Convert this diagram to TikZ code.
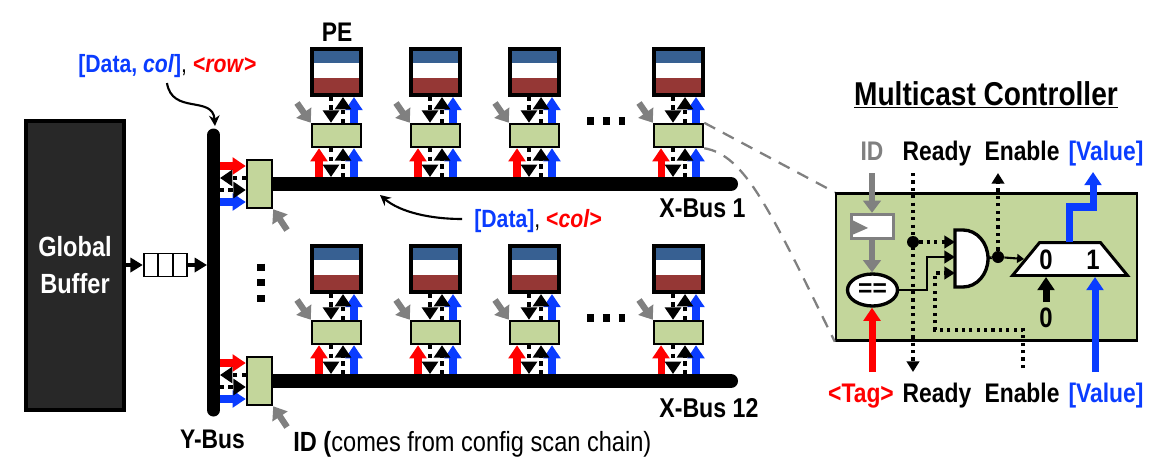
\documentclass[tikz,border=0pt]{standalone}
\usepackage{fontspec}
\setmainfont{Liberation Sans}
\newfontfamily\tallfont[FakeStretch=.85]{Liberation Sans}
\usetikzlibrary{arrows.meta,shapes.geometric}

\definecolor{ctrlgreen}{HTML}{C3D69B}
\definecolor{peblue}{HTML}{376092}
\definecolor{pered}{HTML}{953735}
\definecolor{busblue}{HTML}{0A3CFF}
\definecolor{bufgray}{HTML}{282828}
\definecolor{wiregray}{HTML}{808080}

\tikzset{
    peblock/.style={shape=rectangle,draw=black,fill=white,line width=2.3pt,inner sep=0pt,minimum width=.98cm,minimum height=.92cm},
    ctrlblock/.style={shape=rectangle,draw=black,fill=ctrlgreen,line width=1.4pt,inner sep=0pt,minimum width=.98cm,minimum height=.46cm},
    sideblock/.style={shape=rectangle,draw=black,fill=ctrlgreen,line width=1.4pt,inner sep=0pt,minimum width=.5cm,minimum height=.96cm},
    fifocell/.style={shape=rectangle,draw=black,fill=white,line width=1.1pt,inner sep=0pt,minimum width=.29cm,minimum height=.46cm},
    tallabel/.style={inner sep=0pt,anchor=base,font=\tallfont\fontsize{15.3}{17}\selectfont\bfseries},
    fatarrow/.style={line width=4pt,-{Triangle[length=7.5pt,width=9.5pt]}},
    redarrow/.style={fatarrow,draw=red},
    bluearrow/.style={fatarrow,draw=busblue},
    grayarrow/.style={draw=wiregray,line width=3.6pt,-{Triangle[length=7pt,width=10pt]}},
    dotarrow/.style={draw=black,line width=2.4pt,dash pattern=on 2.4pt off 2.4pt,-{Triangle[length=7pt,width=9pt]}},
    thindot/.style={draw=black,line width=1.8pt,dash pattern=on 1.8pt off 2.4pt},
    thindotarrow/.style={thindot,-{Triangle[length=6pt,width=7pt]}},
    busline/.style={draw=black,line width=.28cm,line cap=round},
    linkarrow/.style={draw=black,line width=1.2pt,-{Stealth[length=6pt,width=6pt]}},
    zoomline/.style={draw=wiregray,line width=1.3pt,dash pattern=on 7pt off 5pt},
    moredots/.style={draw=black,line width=4pt,dash pattern=on 4pt off 5pt},
    gateline/.style={draw=black,fill=white,line width=1.9pt},
}

% one PE with its controller, #2 and #3 are the centre of the PE
\newcommand{\pecell}[3]{
    \node[peblock] (#1) at (#2,#3) {};
    \fill[peblue] (#2-22.5,#3-21) rectangle (#2+22.5,#3-9);
    \fill[pered] (#2-22.5,#3+6) rectangle (#2+22.5,#3+21);
    \node[ctrlblock] (#1c) at (#2,#3+63.5) {};
    \coordinate (#1b) at (#2,#3+105);
    \coordinate (#1g) at (#2-39.5,#3+31);

    \draw[bluearrow] ([xshift=.35cm]#1c.north) -- ([xshift=.35cm]#1.south);
    \draw[dotarrow] ([xshift=-.11cm]#1.south) -- ([xshift=-.11cm]#1c.north);
    \draw[dotarrow] ([xshift=.13cm]#1c.north) -- ([xshift=.13cm]#1.south);
    \draw[grayarrow] (#1g) -- (#1c.north west);

    \draw[redarrow] ([xshift=-.35cm]#1b) -- ([xshift=-.35cm]#1c.south);
    \draw[bluearrow] ([xshift=.35cm]#1b) -- ([xshift=.35cm]#1c.south);
    \draw[dotarrow] ([xshift=-.11cm]#1c.south) -- ([xshift=-.11cm]#1b);
    \draw[dotarrow] ([xshift=.13cm]#1b) -- ([xshift=.13cm]#1c.south);
}

% start of an X-Bus, #2 and #3 are the centre of its side block
\newcommand{\xbusstart}[3]{
    \coordinate (#1a) at (#2,#3);
    \coordinate (#1e) at (731,#3);
    \coordinate (#1y) at (220,#3);
    \coordinate (#1g) at (287,#3+46);
    \draw[busline] (#1a) -- (#1e);
    \node[sideblock] (#1s) at (#2,#3) {};
    \draw[redarrow] ([yshift=.36cm]#1y) -- ([yshift=.36cm]#1s.west);
    \draw[bluearrow] ([yshift=-.36cm]#1y) -- ([yshift=-.36cm]#1s.west);
    \draw[dotarrow] ([yshift=.12cm]#1s.west) -- ([yshift=.12cm]#1y);
    \draw[dotarrow] ([yshift=-.12cm]#1y) -- ([yshift=-.12cm]#1s.west);
    \draw[grayarrow] (#1g) -- (#1s.south east);
}

\begin{document}
\begin{tikzpicture}[x=.02cm,y=-.02cm]
    \useasboundingbox (0,0) rectangle (1155,457);

    % global buffer and fifo
    \node[shape=rectangle,draw=black,fill=bufgray,line width=2.3pt,minimum width=1.96cm,minimum height=5.78cm,inner sep=0pt,align=center,text=white,font=\tallfont\fontsize{15.8}{19}\selectfont\bfseries] (gbuf) at (75,265.5) {Global\\[2pt]Buffer};
    \node[fifocell] (fifoa) at (151,265) {};
    \node[fifocell] (fifob) at (165.5,265) {};
    \node[fifocell] (fifoc) at (180,265) {};

    % y bus
    \coordinate (ybusa) at (213.5,135);
    \coordinate (ybusb) at (213.5,410);
    \draw[busline,line width=.26cm] (ybusa) -- (ybusb);
    \coordinate (ybusin) at (207,265);
    \draw[draw=black,line width=2.5pt,-{Triangle[length=7pt,width=8pt]}] (gbuf.east |- fifoa) -- (fifoa);
    \draw[draw=black,line width=2.5pt,-{Triangle[length=7pt,width=8pt]}] (fifoc) -- (ybusin);

    % x buses
    \xbusstart{xbusa}{259.5}{184}
    \xbusstart{xbusb}{259.5}{381}

    \pecell{pea}{336.5}{72}
    \pecell{peb}{435.5}{72}
    \pecell{pec}{534.5}{72}
    \pecell{ped}{678.5}{72}
    \pecell{pee}{336.5}{269}
    \pecell{pef}{435.5}{269}
    \pecell{peg}{534.5}{269}
    \pecell{peh}{678.5}{269}

    % dots between the blocks
    \coordinate (dotsa) at (587,121);
    \coordinate (dotsb) at (625,121);
    \coordinate (dotsc) at (587,318);
    \coordinate (dotsd) at (625,318);
    \coordinate (dotse) at (261,263.5);
    \coordinate (dotsf) at (261,303);
    \draw[moredots] (dotsa) -- (dotsb);
    \draw[moredots] (dotsc) -- (dotsd);
    \draw[moredots] (dotse) -- (dotsf);

    % labels on the left
    \node[tallabel] (pelabel) at (337,41) {PE};
    \node[tallabel,anchor=base west,font=\tallfont\fontsize{14.2}{17}\selectfont\bfseries] (rowlabel) at (78,72) {\textcolor{busblue}{[Data, \textit{col}]}\textmd{,} \textcolor{red}{<\textit{row}>}};
    \node[tallabel,anchor=base west,font=\tallfont\fontsize{14.2}{17}\selectfont\bfseries] (collabel) at (474,227) {\textcolor{busblue}{[Data]}\textmd{,} \textcolor{red}{<\textit{col}>}};
    \node[tallabel,anchor=base west,font=\tallfont\fontsize{15.5}{17}\selectfont\bfseries] (xbusalabel) at (659,217) {X-Bus 1};
    \node[tallabel,anchor=base west,font=\tallfont\fontsize{15.5}{17}\selectfont\bfseries] (xbusblabel) at (659,417) {X-Bus 12};
    \node[tallabel] (ybuslabel) at (212.5,448) {Y-Bus};
    \node[tallabel,anchor=base west,font=\tallfont\fontsize{15.8}{17}\selectfont\bfseries] (idlabel) at (293,451) {ID (\textmd{comes from config scan chain)}};

    \coordinate (rowlink) at (167,83);
    \coordinate (ybustop) at (215,126);
    \coordinate (collink) at (462,219);
    \coordinate (xbusmark) at (380,195);
    \draw[linkarrow] (rowlink) .. controls (172,115) and (213,95) .. (ybustop);
    \draw[linkarrow] (collink) .. controls (430,219) and (400,212) .. (xbusmark);

    % zoom lines
    \node[shape=rectangle,draw=black,fill=ctrlgreen,line width=1.4pt,minimum width=6.02cm,minimum height=2.94cm,inner sep=0pt] (mcast) at (986.5,267) {};
    \draw[zoomline] (pedc.north east) -- (mcast.north west);
    \draw[zoomline] (pedc.south east) .. controls (745,155) and (770,210) .. (mcast.south west);

    % multicast controller
    \node[inner sep=0pt,font=\tallfont\fontsize{18.8}{20}\selectfont\bfseries] (mtitle) at (986,95) {\underline{Multicast Controller}};

    \node[tallabel,text=wiregray] (idtop) at (872,160) {ID};
    \node[tallabel] (readytop) at (937,160) {Ready};
    \node[tallabel] (enabletop) at (1022,160) {Enable};
    \node[tallabel,text=busblue] (valuetop) at (1106,160) {[Value]};
    \node[tallabel,text=red] (tagbot) at (861,402) {<Tag>};
    \node[tallabel] (readybot) at (937,402) {Ready};
    \node[tallabel] (enablebot) at (1022,402) {Enable};
    \node[tallabel,text=busblue] (valuebot) at (1106,402) {[Value]};

    \node[shape=rectangle,draw=wiregray,fill=white,line width=1.9pt,minimum width=.84cm,minimum height=.48cm,inner sep=0pt] (idreg) at (872.5,226.5) {};
    \coordinate (clka) at (852,220);
    \coordinate (clkb) at (868,228);
    \coordinate (clkc) at (852,235);
    \fill[wiregray] (clka) -- (clkb) -- (clkc) -- cycle;
    \node[shape=ellipse,draw=black,fill=white,line width=1.9pt,minimum width=1cm,minimum height=.64cm,inner sep=0pt,font=\fontsize{14}{14}\selectfont\bfseries] (cmp) at (872.5,290) {==};

    % and gate
    \coordinate (andtl) at (955,230);
    \coordinate (andtm) at (963,230);
    \coordinate (andbl) at (955,287);
    \coordinate (andia) at (955,242);
    \coordinate (andib) at (955,257);
    \coordinate (andic) at (955,273);
    \coordinate (andout) at (988,258);
    \draw[gateline] (andtl) -- (andtm) arc[start angle=90,end angle=-90,x radius=.5cm,y radius=.57cm] -- (andbl) -- cycle;

    \node[trapezium,trapezium stretches=true,trapezium left angle=66,trapezium right angle=66,draw=black,fill=white,line width=1.7pt,minimum width=2.3cm,minimum height=.66cm,inner sep=1pt] (mux) at (1070,259) {};
    \node[inner sep=0pt,font=\tallfont\fontsize{16}{18}\selectfont\bfseries] (muxa) at (1046,260) {0};
    \node[inner sep=0pt,font=\tallfont\fontsize{16}{18}\selectfont\bfseries] (muxb) at (1093,260) {1};
    \node[inner sep=0pt,font=\tallfont\fontsize{16}{18}\selectfont\bfseries] (zero) at (1046,318) {0};

    \coordinate (idin) at (872,173);
    \coordinate (tagin) at (872,372);
    \coordinate (rdyin) at (913,173);
    \coordinate (rdyout) at (913,372);
    \coordinate (enin) at (1023,368);
    \coordinate (enturn) at (1023,330);
    \coordinate (enturnb) at (935,330);
    \coordinate (enout) at (998,173);
    \coordinate (valbase) at (1069,242);
    \coordinate (valbenda) at (1069,207);
    \coordinate (valbendb) at (1093,207);
    \coordinate (valout) at (1093,172);
    \coordinate (valin) at (1095,372);
    \coordinate (cmpup) at (927,290);
    \coordinate (zeroin) at (1046,302);

    \draw[grayarrow] (idin) -- (idreg.north -| idin);
    \draw[grayarrow] (idreg.south -| idin) -- (cmp.north -| idin);
    \draw[redarrow] (tagin) -- (cmp.south -| tagin);

    \draw[thindotarrow] (rdyin) -- (rdyout);
    \node[shape=circle,fill=black,inner sep=0pt,minimum size=.24cm] (rdydot) at (913,242) {};
    \draw[thindotarrow] (rdydot) -- (andia);
    \draw[draw=black,line width=1.6pt,-{Triangle[length=6pt,width=7pt]}] (cmp.east) -- (cmpup) -- (cmpup |- andib) -- (andib);
    \draw[thindotarrow] (enin) -- (enturn) -- (enturnb) -- (enturnb |- andic) -- (andic);

    \node[shape=circle,fill=black,inner sep=0pt,minimum size=.24cm] (outdot) at (998,257) {};
    \draw[draw=black,line width=1.6pt] (andout) -- (outdot);
    \draw[draw=black,line width=1.2pt,-{Triangle[length=4pt,width=5pt]}] (outdot) -- (mux.west);
    \draw[thindotarrow] (outdot) -- (enout);

    \draw[bluearrow] (valbase) -- (valbenda) -- (valbendb) -- (valout);
    \draw[bluearrow] (valin) -- (valin |- mux.south);
    \draw[fatarrow,draw=black] (zeroin) -- (zeroin |- mux.south);
\end{tikzpicture}
\end{document}
